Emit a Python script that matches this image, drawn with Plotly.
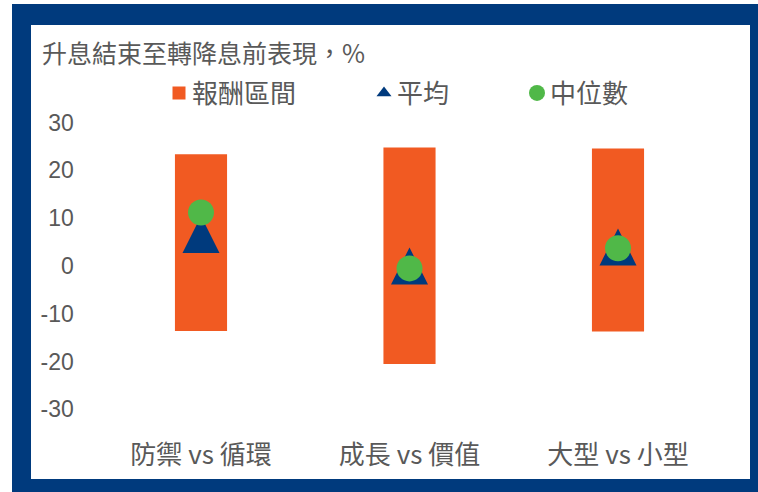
import plotly.graph_objects as go

# ---- data -------------------------------------------------------------
categories = ["防禦 vs 循環", "成長 vs 價值", "大型 vs 小型"]
range_low = [-13.6, -20.5, -13.7]      # bottom of return range (%)
range_high = [23.4, 24.8, 24.6]        # top of return range (%)
mean_vals = [6.6, 0.0, 4.0]            # 平均
median_vals = [11.2, -0.5, 3.7]        # 中位數
y_ticks = [30, 20, 10, 0, -10, -20, -30]

title_text = "升息結束至轉降息前表現，%"
legend_names = ["報酬區間", "平均", "中位數"]

# ---- styling ------------------------------------------------------------
W, H = 758, 492
NAVY = "#003A7D"
ORANGE = "#F15A22"
GREEN = "#50B848"
GREY = "#595959"
CJK = "Noto Sans CJK TC"
LATIN = "Liberation Sans, Arial"
LEG_SHIFT = 7   # nudges legend symbols toward their text


def fx(px):
    return px / W


def fy(px):
    return 1 - px / H


range_size = [h - l for h, l in zip(range_high, range_low)]

fig = go.Figure()

# floating bars: return range
fig.add_trace(go.Bar(
    x=categories, y=range_size, base=range_low, width=0.25,
    marker=dict(color=ORANGE, line=dict(width=0)),
    name=legend_names[0], showlegend=False,
))

# mean: tall triangle centred on the value (arrow flipped + standoff)
fig.add_trace(go.Scatter(
    x=categories, y=mean_vals, mode="markers",
    marker=dict(symbol="arrow-down", angle=180, standoff=18.5, size=37,
                color=NAVY, line=dict(width=0)),
    name=legend_names[1], showlegend=False,
))

# median: circles
fig.add_trace(go.Scatter(
    x=categories, y=median_vals, mode="markers",
    marker=dict(symbol="circle", size=26, color=GREEN, line=dict(width=0)),
    name=legend_names[2], showlegend=False,
))

# legend entries (symbols only); angle 90 + standoff moves them right
legend_markers = [
    dict(symbol="square", size=13, color=ORANGE),
    dict(symbol="triangle-left", size=13, color=NAVY),
    dict(symbol="circle", size=16, color=GREEN),
]
for i, (nm, mk) in enumerate(zip(legend_names, legend_markers)):
    fig.add_trace(go.Scatter(
        x=[None], y=[None], mode="markers", name=nm,
        marker=dict(angle=90, standoff=LEG_SHIFT, line=dict(width=0), **mk),
        legend="legend" if i == 0 else f"legend{i + 1}",
        showlegend=True, hoverinfo="skip",
    ))

legend_common = dict(
    orientation="h", yanchor="middle", xanchor="left",
    bgcolor="rgba(0,0,0,0)", borderwidth=0, itemsizing="trace",
    font=dict(family=CJK, size=26, color=GREY),
)

fig.update_layout(
    width=W, height=H,
    margin=dict(l=0, r=0, t=0, b=0, autoexpand=False),
    paper_bgcolor="white",
    plot_bgcolor="rgba(0,0,0,0)",
    showlegend=True,
    legend=dict(x=fx(152), y=fy(93), **legend_common),
    legend2=dict(x=fx(357), y=fy(93), **legend_common),
    legend3=dict(x=fx(510), y=fy(93), **legend_common),
    xaxis=dict(
        domain=[fx(96.75), fx(722.25)], range=[-0.5, 2.5],
        showgrid=False, zeroline=False, showline=False, automargin=False,
        ticks="", ticklabelstandoff=28,
        tickfont=dict(family=CJK, size=26, color=GREY),
    ),
    yaxis=dict(
        domain=[fy(409.4), fy(122.6)], range=[-30, 30],
        tickvals=y_ticks, ticktext=[str(v) for v in y_ticks],
        showgrid=False, zeroline=False, showline=False, automargin=False,
        ticks="", ticklabelstandoff=22,
        tickfont=dict(family=LATIN, size=23, color=GREY),
    ),
    shapes=[
        dict(type="rect", xref="paper", yref="paper", layer="below",
             x0=fx(12), x1=fx(758), y0=fy(492), y1=fy(4),
             fillcolor=NAVY, line=dict(width=0)),
        dict(type="rect", xref="paper", yref="paper", layer="below",
             x0=fx(31), x1=fx(750), y0=fy(479), y1=fy(25),
             fillcolor="white", line=dict(width=0)),
    ],
    annotations=[
        dict(text=title_text, xref="paper", yref="paper",
             x=fx(40), y=fy(52), xanchor="left", yanchor="middle",
             showarrow=False, font=dict(family=CJK, size=25, color=GREY)),
    ],
)

fig.write_html("out.html")
